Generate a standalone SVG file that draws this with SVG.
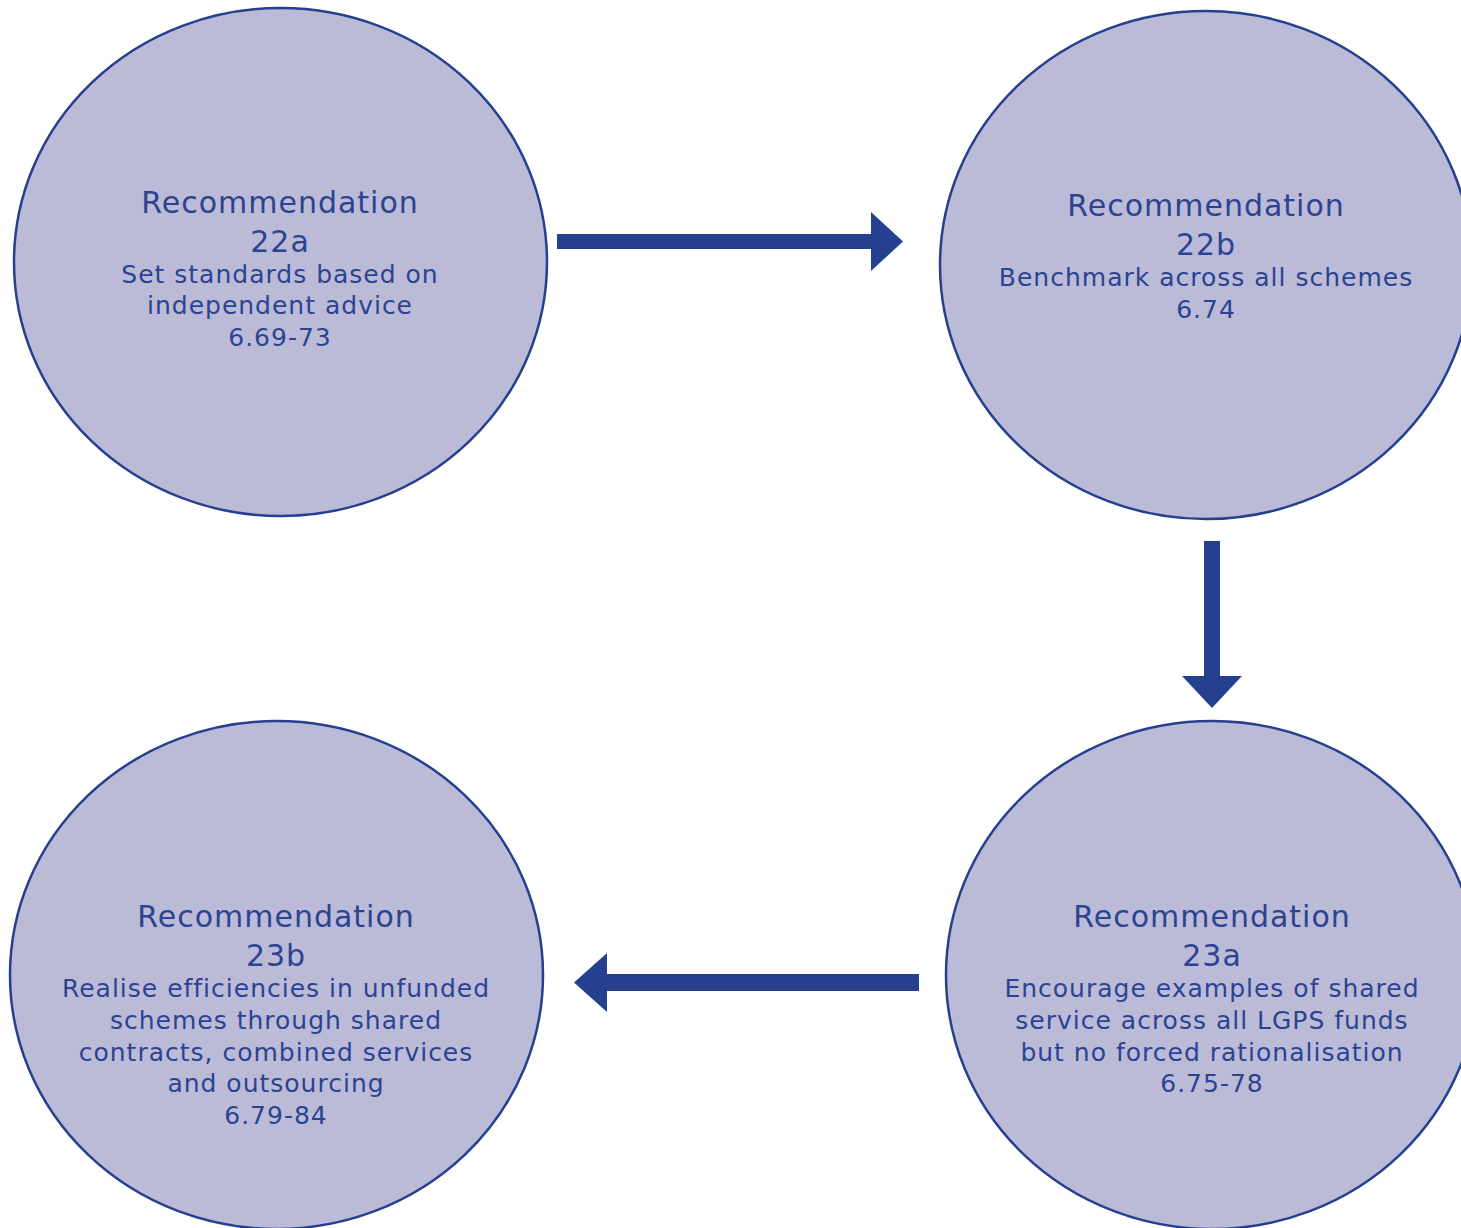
<svg xmlns="http://www.w3.org/2000/svg" width="1461" height="1228" viewBox="0 0 1461 1228">
<style>
.node ellipse{fill:#BBBBD8;stroke:#263F8E;stroke-width:2.5}
.t{font-family:"DejaVu Sans",Verdana,sans-serif;fill:#2B4391;text-anchor:middle;letter-spacing:1px}
.h{font-size:30px}
.b{font-size:25px}
.arrow{fill:#25408F}
</style>
<rect width="1461" height="1228" fill="#FFFFFF"/>
<g id="node-22a" class="node">
<ellipse cx="280.5" cy="262" rx="266.5" ry="254"/>
<text class="t h" x="280" y="213">Recommendation</text>
<text class="t h" x="280" y="252">22a</text>
<text class="t b" x="280" y="283">Set standards based on</text>
<text class="t b" x="280" y="314">independent advice</text>
<text class="t b" x="280" y="346">6.69-73</text>
</g>
<g id="node-22b" class="node">
<ellipse cx="1206" cy="265" rx="266" ry="254"/>
<text class="t h" x="1206" y="216">Recommendation</text>
<text class="t h" x="1206" y="255">22b</text>
<text class="t b" x="1206" y="286">Benchmark across all schemes</text>
<text class="t b" x="1206" y="318">6.74</text>
</g>
<g id="node-23a" class="node">
<ellipse cx="1212" cy="975" rx="266" ry="254"/>
<text class="t h" x="1212" y="927">Recommendation</text>
<text class="t h" x="1212" y="966">23a</text>
<text class="t b" x="1212" y="997">Encourage examples of shared</text>
<text class="t b" x="1212" y="1029">service across all LGPS funds</text>
<text class="t b" x="1212" y="1061">but no forced rationalisation</text>
<text class="t b" x="1212" y="1092">6.75-78</text>
</g>
<g id="node-23b" class="node">
<ellipse cx="276.5" cy="975" rx="266.5" ry="254"/>
<text class="t h" x="276" y="927">Recommendation</text>
<text class="t h" x="276" y="966">23b</text>
<text class="t b" x="276" y="997">Realise efficiencies in unfunded</text>
<text class="t b" x="276" y="1029">schemes through shared</text>
<text class="t b" x="276" y="1061">contracts, combined services</text>
<text class="t b" x="276" y="1092">and outsourcing</text>
<text class="t b" x="276" y="1124">6.79-84</text>
</g>
<g id="connectors">
<polygon class="arrow" points="557,234 871,234 871,212 903,241.5 871,271 871,249 557,249"/>
<polygon class="arrow" points="1204,541 1220,541 1220,676 1242,676 1212,708 1182,676 1204,676"/>
<polygon class="arrow" points="919,974 607,974 607,953 574,982.5 607,1012 607,991 919,991"/>
</g>
</svg>
